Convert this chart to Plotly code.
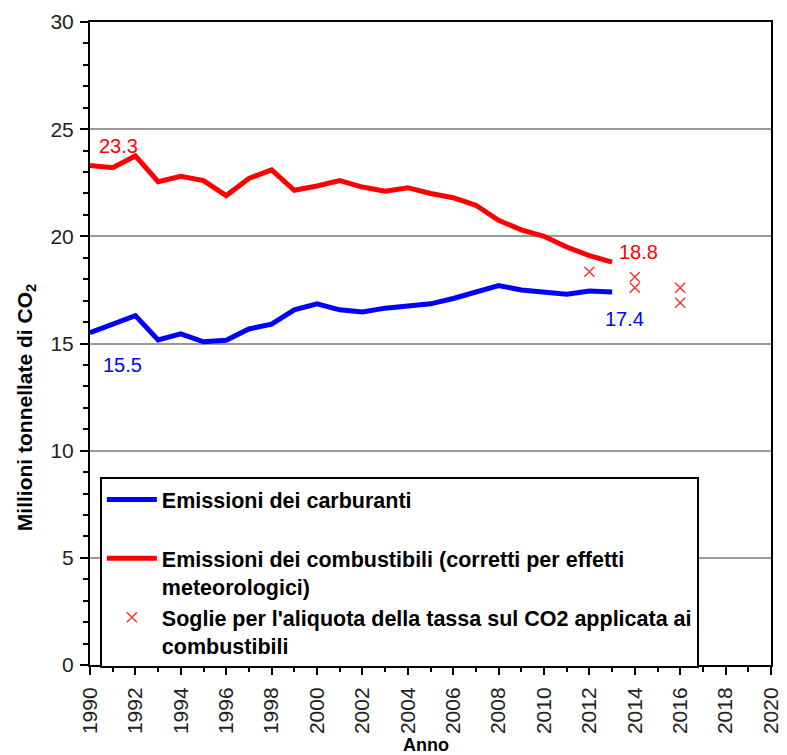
import plotly.graph_objects as go

years = list(range(1990, 2014))
carburanti = [15.5, 15.87, 16.3, 15.17, 15.45, 15.08, 15.15, 15.68, 15.9, 16.57, 16.85, 16.57,
              16.47, 16.65, 16.75, 16.85, 17.1, 17.37, 17.7, 17.5, 17.4, 17.3, 17.45, 17.4]
combustibili = [23.3, 23.2, 23.75, 22.55, 22.8, 22.6, 21.9, 22.7, 23.1, 22.15, 22.35, 22.6,
                22.3, 22.1, 22.27, 22.0, 21.8, 21.45, 20.75, 20.3, 20.0, 19.5, 19.1, 18.8]
soglie_anni = [2012, 2014, 2014, 2016, 2016]
soglie_val = [18.35, 18.1, 17.6, 17.6, 16.9]
x_ticks = list(range(1990, 2021, 2))

names = ["Emissioni dei carburanti<br>&nbsp;",
         "Emissioni dei combustibili (corretti per effetti<br>meteorologici)",
         "Soglie per l'aliquota della tassa sul CO2 applicata ai<br>combustibili"]

FONT = "Liberation Sans, Arial, sans-serif"
BLUE = "#0000FF"
RED = "#FF0000"

fig = go.Figure()
fig.add_trace(go.Scatter(x=years, y=carburanti, mode="lines", name=names[0],
                         line=dict(color=BLUE, width=5), legendgroup="a"))
fig.add_trace(go.Scatter(x=years, y=combustibili, mode="lines", name=names[1],
                         line=dict(color=RED, width=5), legendgroup="b"))
fig.add_trace(go.Scatter(x=soglie_anni, y=soglie_val, mode="markers", name=names[2],
                         marker=dict(symbol="x-thin", size=10, color="#FF3333",
                                     line=dict(color="#FF3333", width=1.5)),
                         legendgroup="c"))

# value labels
labels = [
    (years[0], combustibili[0], RED, 28, 20),
    (years[0], carburanti[0], BLUE, 32, -32),
    (years[-1], combustibili[-1], RED, 26, 10),
    (years[-1], carburanti[-1], BLUE, 12, -27),
]
for xv, yv, col, xs, ys in labels:
    fig.add_annotation(x=xv, y=yv, text=f"{yv:.1f}", showarrow=False, xshift=xs, yshift=ys,
                       font=dict(family=FONT, size=20, color=col))

fig.add_annotation(xref="paper", yref="paper", x=-0.094, y=0.401, xanchor="center",
                   yanchor="middle",
                   text="Millioni tonnellate di CO<sub>2</sub>", textangle=-90, showarrow=False,
                   font=dict(family=FONT, size=21, color="black", weight="bold"))
fig.add_annotation(xref="paper", yref="paper", x=0.493, y=-0.1245, xanchor="center",
                   yanchor="middle",
                   text="Anno", showarrow=False,
                   font=dict(family=FONT, size=18, color="black", weight="bold"))

fig.update_layout(
    width=787, height=755,
    margin=dict(l=90, r=16, t=22, b=90),
    paper_bgcolor="white", plot_bgcolor="white",
    font=dict(family=FONT, size=21, color="#222"),
    showlegend=True,
    legend=dict(x=0.0145, y=0.2924, xanchor="left", yanchor="top",
                bgcolor="white", bordercolor="black", borderwidth=2,
                font=dict(family=FONT, size=21.5, color="black", weight="bold"),
                traceorder="grouped", tracegroupgap=0, valign="top", itemwidth=50),
    xaxis=dict(range=[1990, 2020], tickmode="array", tickvals=x_ticks,
               ticktext=[str(v) for v in x_ticks], tickangle=-90, automargin=False,
               showgrid=False, zeroline=False,
               showline=True, linecolor="black", linewidth=2, mirror=True,
               ticks="outside", ticklen=8, tickwidth=2, tickcolor="black",
               minor=dict(dtick=1, tick0=1990, ticks="outside", ticklen=5, tickwidth=2,
                          tickcolor="black"),
               ticklabelstandoff=4,
               tickfont=dict(family=FONT, size=21, color="#222")),
    yaxis=dict(range=[0, 30], dtick=5, tick0=0, automargin=False,
               showgrid=True, gridcolor="#999999", gridwidth=1.5, zeroline=False,
               showline=True, linecolor="black", linewidth=2, mirror=True,
               ticks="outside", ticklen=8, tickwidth=2, tickcolor="black",
               minor=dict(dtick=1, ticks="outside", ticklen=5, tickwidth=2, tickcolor="black"),
               ticklabelstandoff=2,
               tickfont=dict(family=FONT, size=21, color="#222")),
)

# remove the default 8px page margin so the 787x755 figure fills the window exactly
fig.write_html("out.html", config={"displayModeBar": False},
               post_script="document.body.style.margin='0';")
